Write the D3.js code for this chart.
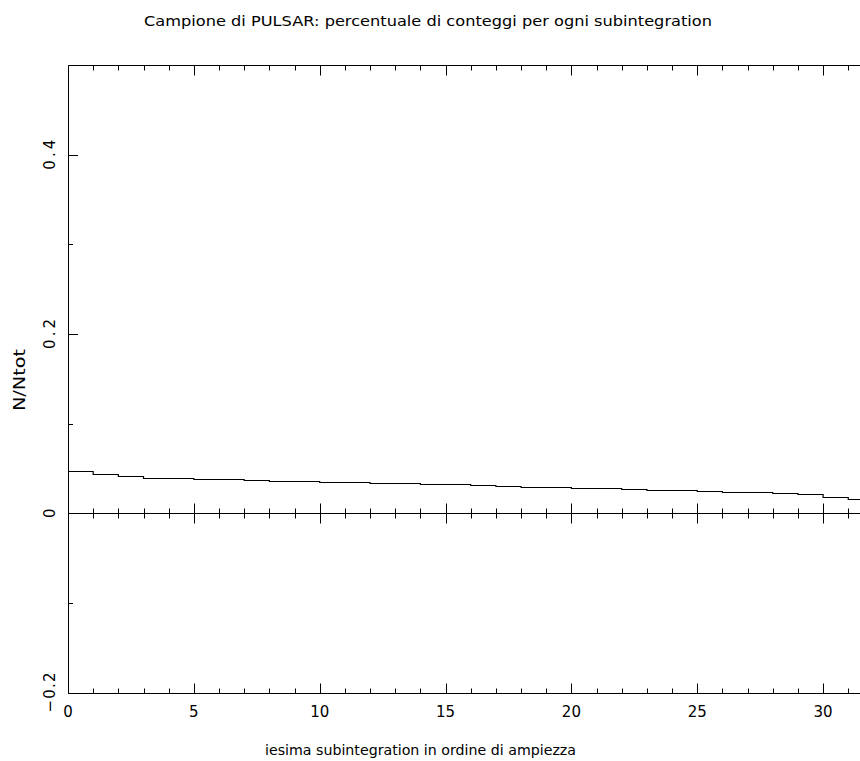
<!DOCTYPE html>
<html>
<head>
<meta charset="utf-8">
<script src="https://cdn.jsdelivr.net/npm/d3@7"></script>
<style>
  html, body { margin: 0; padding: 0; background: #fff; overflow: hidden; }
  svg { display: block; }
  text { font-family: "DejaVu Sans", sans-serif; fill: #000; }
</style>
</head>
<body>
<script>
// ---- data ----
const title = "Campione di PULSAR: percentuale di conteggi per ogni subintegration";
const xLabel = "iesima subintegration in ordine di ampiezza";
const yLabel = "N/Ntot";
const bins = d3.range(0, 32); // subintegration index 0..31
const fractions = [
  0.0469, 0.0440, 0.0413, 0.0398, 0.0389, 0.0385, 0.0378, 0.0374,
  0.0360, 0.0355, 0.0347, 0.0344, 0.0336, 0.0333, 0.0325, 0.0321,
  0.0310, 0.0307, 0.0296, 0.0293, 0.0280, 0.0277, 0.0268, 0.0259,
  0.0255, 0.0246, 0.0236, 0.0232, 0.0220, 0.0209, 0.0183, 0.0153
];
const xMajorTicks = [0, 5, 10, 15, 20, 25, 30];
const xMinorTicks = d3.range(0, 33);
const yMajorTicks = [-0.2, 0, 0.2, 0.4];
const yMinorTicks = [-0.1, 0.1, 0.3];
const yTickLabels = ["\u22120.2", "0", "0.2", "0.4"];

// ---- layout ----
const W = 860, H = 761;
const mLeft = 68, mTop = 65, mBottom = 692.5;
const x = d3.scaleLinear().domain([0, 32]).range([mLeft, mLeft + 32 * 25.17]);
const y = d3.scaleLinear().domain([-0.2, 0.5]).range([mBottom, mTop]);

const svg = d3.select("body").append("svg").attr("width", W).attr("height", H);
const g = svg.append("g");
const px = v => Math.round(v) + 0.5;
const stroke = "#000";

// frame (right side falls outside the window)
const xr = x(32);
g.append("path")
  .attr("d", `M${px(xr)},${px(y(0.5))}H${px(mLeft)}V${px(mBottom)}H${px(xr)}V${px(y(0.5))}`)
  .attr("fill", "none").attr("stroke", stroke).attr("stroke-width", 1);

// zero line
g.append("line").attr("x1", mLeft).attr("x2", xr)
  .attr("y1", px(y(0))).attr("y2", px(y(0))).attr("stroke", stroke);

// x ticks: bottom (up), top (down), zero line (both)
const isMajor = v => xMajorTicks.includes(v);
xMinorTicks.forEach(v => {
  const len = isMajor(v) ? 10 : 5;
  const xx = px(x(v));
  g.append("line").attr("x1", xx).attr("x2", xx).attr("y1", px(mBottom)).attr("y2", px(mBottom) - len).attr("stroke", stroke);
  g.append("line").attr("x1", xx).attr("x2", xx).attr("y1", px(y(0.5))).attr("y2", px(y(0.5)) + len).attr("stroke", stroke);
  g.append("line").attr("x1", xx).attr("x2", xx).attr("y1", px(y(0)) - len).attr("y2", px(y(0)) + len).attr("stroke", stroke);
});

// y ticks on left
yMajorTicks.forEach(v => {
  const yy = px(y(v));
  g.append("line").attr("x1", mLeft).attr("x2", mLeft + 10).attr("y1", yy).attr("y2", yy).attr("stroke", stroke);
});
yMinorTicks.forEach(v => {
  const yy = px(y(v));
  g.append("line").attr("x1", mLeft).attr("x2", mLeft + 5).attr("y1", yy).attr("y2", yy).attr("stroke", stroke);
});

// x tick labels
xMajorTicks.forEach(v => {
  g.append("text").attr("x", x(v)).attr("y", 717)
    .attr("text-anchor", "middle").attr("font-size", 15).text(v);
});

// y tick labels (rotated)
yMajorTicks.forEach((v, i) => {
  const t = g.append("text")
    .attr("transform", `translate(55,${y(v)}) rotate(-90)`)
    .attr("text-anchor", "middle").attr("font-size", 15).text(yTickLabels[i]);
  const s = yTickLabels[i];
  if (s.length > 1) t.attr("textLength", s.length > 3 ? 40 : 30).attr("lengthAdjust", "spacing");
});

// step line histogram
const stepData = bins.map((b, i) => ({ x: b, v: fractions[i] }));
stepData.push({ x: 32, v: fractions[fractions.length - 1] });
const line = d3.line().x(d => x(d.x)).y(d => px(y(d.v))).curve(d3.curveStepAfter);
g.append("path").datum(stepData).attr("d", line)
  .attr("fill", "none").attr("stroke", stroke).attr("stroke-width", 1.2);

// title
g.append("text").attr("x", 428).attr("y", 26).attr("text-anchor", "middle")
  .attr("font-size", 14).attr("textLength", 568).attr("lengthAdjust", "spacingAndGlyphs").text(title);

// x label
g.append("text").attr("x", 420.5).attr("y", 755).attr("text-anchor", "middle")
  .attr("font-size", 14).attr("textLength", 311).attr("lengthAdjust", "spacingAndGlyphs").text(xLabel);

// y label
g.append("text").attr("transform", `translate(25,380) rotate(-90)`)
  .attr("text-anchor", "middle").attr("font-size", 15)
  .attr("textLength", 62).attr("lengthAdjust", "spacingAndGlyphs").text(yLabel);
</script>
</body>
</html>
